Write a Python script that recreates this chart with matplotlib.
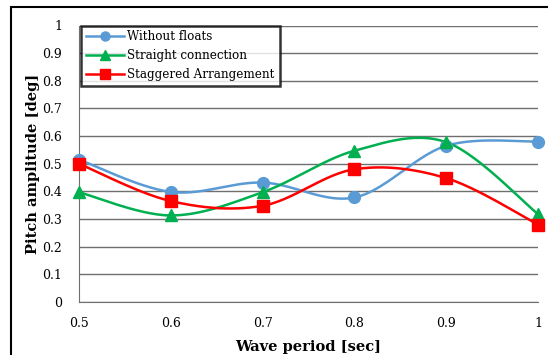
import numpy as np
import matplotlib
matplotlib.use("Agg")
import matplotlib.pyplot as plt
from matplotlib.patches import Rectangle

periods = [0.5, 0.6, 0.7, 0.8, 0.9, 1.0]
without_floats = [0.515, 0.398, 0.432, 0.378, 0.565, 0.58]
straight = [0.397, 0.313, 0.397, 0.547, 0.578, 0.318]
staggered = [0.50, 0.365, 0.348, 0.48, 0.448, 0.28]
xticks = [0.5, 0.6, 0.7, 0.8, 0.9, 1.0]
xticklabels = ["0.5", "0.6", "0.7", "0.8", "0.9", "1"]
yticks = [0, 0.1, 0.2, 0.3, 0.4, 0.5, 0.6, 0.7, 0.8, 0.9, 1.0]
yticklabels = ["0", "0.1", "0.2", "0.3", "0.4", "0.5", "0.6", "0.7", "0.8", "0.9", "1"]


def smooth(x, y, n=30):
    x = np.asarray(x, float)
    y = np.asarray(y, float)
    P = np.column_stack([x, y])
    out = []
    for i in range(len(P) - 1):
        p0 = P[i - 1] if i > 0 else P[i]
        p1 = P[i]
        p2 = P[i + 1]
        p3 = P[i + 2] if i + 2 < len(P) else P[i + 1]
        c1 = p1 + (p2 - p0) / 6.0
        c2 = p2 - (p3 - p1) / 6.0
        t = np.linspace(0, 1, n)[:, None]
        seg = ((1 - t) ** 3) * p1 + 3 * ((1 - t) ** 2) * t * c1 + 3 * (1 - t) * t ** 2 * c2 + t ** 3 * p2
        out.append(seg if i == 0 else seg[1:])
    s = np.vstack(out)
    return s[:, 0], s[:, 1]


fig = plt.figure(figsize=(5.48, 3.55), dpi=100)
ax = fig.add_axes([79 / 548, 1 - 302 / 355, (538 - 79) / 548, (302 - 25.5) / 355])

serif = ["DejaVu Serif"]

series = [
    (without_floats, "#5B9BD5", "o", "Without floats", 8.5),
    (straight, "#00B050", "^", "Straight connection", 8.5),
    (staggered, "#FF0000", "s", "Staggered Arrangement", 8.5),
]
handles = []
for vals, col, mk, lab, ms in series:
    sx, sy = smooth(periods, vals)
    ax.plot(sx, sy, color=col, lw=1.8, zorder=3, clip_on=False)
    ax.plot(periods, vals, linestyle="none", marker=mk, color=col, ms=ms, zorder=4, clip_on=False)
    h, = ax.plot([], [], color=col, lw=1.8, marker=mk, ms=6.5, label=lab)
    handles.append(h)

ax.set_xlim(0.5, 1.0)
ax.set_ylim(0, 1.0)
ax.set_xticks(xticks)
ax.set_xticklabels(xticklabels, fontfamily=serif, fontsize=9)
ax.set_yticks(yticks)
ax.set_yticklabels(yticklabels, fontfamily=serif, fontsize=9)
ax.tick_params(axis="both", length=0, colors="black")
ax.tick_params(axis="x", pad=11)
ax.tick_params(axis="y", pad=12)
ax.yaxis.grid(True, color="#6f6f6f", lw=1.0)
ax.set_axisbelow(True)
for s in ["top", "right"]:
    ax.spines[s].set_visible(False)
ax.spines["left"].set_color("#6f6f6f")
ax.spines["bottom"].set_color("#6f6f6f")

ax.set_ylabel("Pitch amplitude [deg]", fontfamily=serif, fontsize=10.5, fontweight="bold", labelpad=2)
ax.set_xlabel("Wave period [sec]", fontfamily=serif, fontsize=10.5, fontweight="bold", labelpad=7)

leg = ax.legend(handles=handles, loc="upper left", bbox_to_anchor=(0.004, 1.0),
                prop={"family": serif, "size": 8.6},
                frameon=True, fancybox=False, borderpad=0.4, handlelength=3.2,
                labelspacing=0.5, handletextpad=0.3, borderaxespad=0.0)
leg.get_frame().set_edgecolor("black")
leg.get_frame().set_linewidth(1.8)

fig.patches.append(Rectangle((11 / 548, -0.05), 1.1, 1 - 7 / 355 + 0.05, transform=fig.transFigure,
                             fill=False, edgecolor="black", lw=1.5))

fig.savefig("out.png", dpi=100)
